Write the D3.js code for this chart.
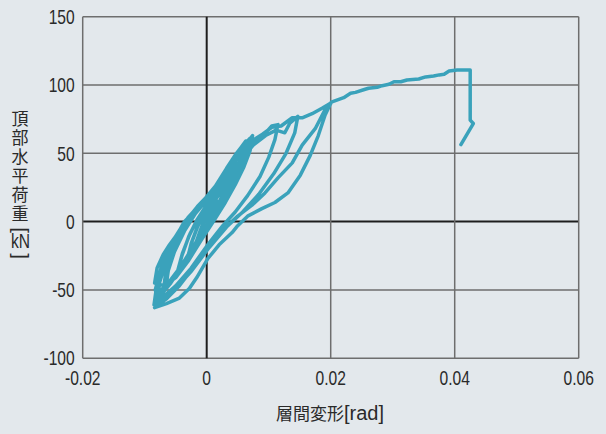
<!DOCTYPE html>
<html>
<head>
<meta charset="utf-8">
<script src="https://cdn.jsdelivr.net/npm/d3@7"></script>
<style>
  html, body { margin: 0; padding: 0; background: #e3e8ec; }
  svg { display: block; }
  .tick-label { font-family: "Liberation Sans", Arial, sans-serif; font-size: 20px; fill: #2a2a2a; }
  .axis-title { font-family: "Noto Sans CJK JP", sans-serif; font-size: 17px; fill: #2a2a2a; }
  .axis-unit { font-family: "Liberation Sans", Arial, sans-serif; font-size: 20px; fill: #2a2a2a; }
</style>
</head>
<body>
<svg id="chart"></svg>
<script>
// axis ticks
const xTicks = [-0.02, 0, 0.02, 0.04, 0.06]
const xTickLabels = ["-0.02", "0", "0.02", "0.04", "0.06"]
const yTicks = [-100, -50, 0, 50, 100, 150]

// [drift rad, load kN], in test order
const smallCycles = [
  [0, 0], [0.0008, 7], [0.0016, 14], [0.0011, 7], [0.0003, 0], [-0.0007, -7], [-0.0015, -13], [-0.0010, -6],
  [-0.0003, 1], [0.0007, 8], [0.0017, 15], [0.0010, 6], [0.0001, -2], [-0.0009, -9], [-0.0017, -15], [-0.0010, -6],
  [-0.0002, 3], [0.0010, 13], [0.0020, 20], [0.0030, 27], [0.0023, 17], [0.0012, 7], [0.0002, -3], [-0.0010, -12],
  [-0.0022, -20], [-0.0031, -27], [-0.0025, -16], [-0.0016, -5], [-0.0005, 5], [0.0009, 15], [0.0021, 22], [0.0032, 29],
  [0.0022, 16], [0.0009, 4], [-0.0005, -7], [-0.0018, -17], [-0.0032, -28], [-0.0024, -15], [-0.0014, -3]
]
const midCycles = [
  [-0.0002, 9], [0.0014, 19], [0.0030, 31], [0.0046, 41], [0.0038, 30], [0.0026, 18], [0.0012, 6], [-0.0002, -5],
  [-0.0018, -17], [-0.0033, -27], [-0.0047, -37], [-0.0040, -25], [-0.0029, -11], [-0.0016, 1], [0.0001, 13], [0.0019, 24],
  [0.0034, 34], [0.0047, 43], [0.0035, 28], [0.0021, 14], [0.0005, 1], [-0.0013, -13], [-0.0029, -25], [-0.0048, -38],
  [-0.0039, -23], [-0.0027, -9], [-0.0013, 3], [0.0005, 15], [0.0022, 28], [0.0038, 40], [0.0050, 50], [0.0060, 56],
  [0.0054, 44], [0.0043, 31], [0.0029, 19], [0.0014, 7], [-0.0001, -5], [-0.0020, -19], [-0.0040, -33], [-0.0056, -43],
  [-0.0066, -49], [-0.0062, -36], [-0.0052, -22], [-0.0036, -7], [-0.0018, 6], [0.0004, 18], [0.0025, 32], [0.0042, 45],
  [0.0055, 54], [0.0063, 59], [0.0056, 46], [0.0042, 31], [0.0025, 16], [0.0008, 3], [-0.0012, -12], [-0.0034, -29],
  [-0.0056, -43], [-0.0070, -51], [-0.0066, -37], [-0.0056, -21], [-0.0040, -6]
]
const repeatCycles = [
  [-0.0030, 2], [-0.0012, 12], [0.0008, 22], [0.0028, 35], [0.0045, 47], [0.0058, 55], [0.0066, 58], [0.0060, 47],
  [0.0048, 34], [0.0032, 21], [0.0016, 9], [0, -3], [-0.0020, -17], [-0.0042, -33], [-0.0062, -45], [-0.0078, -52],
  [-0.0074, -38], [-0.0062, -22], [-0.0044, -7], [-0.0026, 4], [-0.0006, 15], [0.0014, 26], [0.0032, 39], [0.0048, 50],
  [0.0060, 57], [0.0068, 60], [0.0063, 50], [0.0052, 37], [0.0038, 24], [0.0020, 11], [0.0004, -1], [-0.0016, -15],
  [-0.0038, -31], [-0.0060, -44], [-0.0080, -54], [-0.0083, -50], [-0.0072, -31], [-0.0056, -15], [-0.0038, -2],
  [-0.0015, 11], [0.0006, 21], [0.0026, 33], [0.0044, 46], [0.0058, 55], [0.0070, 61], [0.0066, 52], [0.0056, 40],
  [0.0040, 27], [0.0022, 13], [0.0006, 1], [-0.0014, -13], [-0.0036, -30], [-0.0058, -45], [-0.0076, -55], [-0.0083, -59],
  [-0.0080, -44], [-0.0066, -27], [-0.0048, -10], [-0.0030, 3]
]
const largeCycles = [
  [-0.0020, 8], [-0.0002, 17], [0.0017, 24], [0.0036, 36], [0.0052, 51], [0.0062, 57], [0.0064, 53], [0.0069, 60],
  [0.0074, 63], [0.0070, 52], [0.0060, 40], [0.0046, 27], [0.0030, 14], [0.0012, 1], [-0.0008, -13], [-0.0030, -29],
  [-0.0050, -41], [-0.0068, -47], [-0.0084, -45], [-0.0080, -34], [-0.0070, -24], [-0.0060, -17], [-0.0047, -9], [-0.0036, 0],
  [-0.0019, 8], [0, 18], [0.0020, 28], [0.0040, 41], [0.0060, 52], [0.0073, 58], [0.0085, 62], [0.0097, 66], [0.0105, 70],
  [0.0115, 71], [0.0110, 60], [0.0100, 47], [0.0086, 33], [0.0066, 19], [0.0046, 7], [0.0026, -3], [0, -18],
  [-0.0025, -34], [-0.0050, -47], [-0.0070, -55], [-0.0085, -61], [-0.0081, -48], [-0.0070, -30], [-0.0056, -17], [-0.0040, -6],
  [-0.0024, 4], [-0.0006, 14], [0.0016, 23], [0.0035, 34], [0.0055, 45], [0.0075, 56], [0.0095, 63], [0.0112, 67], [0.0126, 65],
  [0.0134, 72], [0.0147, 77], [0.0142, 65], [0.0128, 50], [0.0108, 35], [0.0084, 20], [0.0058, 7], [0.0032, -4],
  [0.0004, -19], [-0.0026, -37], [-0.0056, -52], [-0.0080, -60], [-0.0077, -46], [-0.0066, -30], [-0.0050, -14], [-0.0032, -1],
  [-0.0010, 12]
]
const bigLoop = [
  [0.0012, 20], [0.0034, 32], [0.0056, 46], [0.0073, 59], [0.0090, 64], [0.0105, 69], [0.0120, 70], [0.0138, 76],
  [0.0154, 76], [0.0170, 79], [0.0186, 83], [0.0201, 87],
  [0.0191, 82], [0.0175, 68], [0.0154, 56], [0.0138, 43], [0.0115, 32], [0.0094, 21], [0.0073, 12], [0.0050, 4],
  [0.0026, -6], [0, -20], [-0.0022, -34], [-0.0044, -47], [-0.0066, -57], [-0.0084, -63],
  [-0.0065, -60], [-0.0044, -56], [-0.0028, -49], [-0.0016, -41], [0.0002, -27], [0.0020, -17], [0.0041, -8], [0.0050, -3],
  [0.0066, 4], [0.0089, 9.5], [0.0110, 14], [0.0131, 21], [0.0151, 34], [0.0167, 48.5], [0.0180, 63], [0.0191, 78],
  [0.0201, 87.5]
]
const finalPush = [
  [0.0221, 90.7], [0.0232, 93.9], [0.0240, 94.6], [0.0253, 96.5], [0.0261, 97.6], [0.0275, 98.3], [0.0283, 99.5],
  [0.0294, 100.5], [0.0302, 102.4], [0.0313, 102.4], [0.0323, 103.7], [0.0342, 104.4], [0.0353, 105.9], [0.0366, 106.6],
  [0.0375, 107.4], [0.0383, 107.9], [0.0391, 110.3], [0.0404, 111], [0.0425, 111], [0.0425, 74.3], [0.0430, 71.8],
  [0.0410, 56.4]
]

const yTitle = "頂部水平荷重"

const initViz = ({ svg }) => {
  const width = 606
  const height = 434
  const margin = ({ top: 16.7, right: 27.3, bottom: 75.8, left: 82.7 })
  const squeeze = 0.78 // the original uses a condensed face

  svg.attr("width", width).attr("height", height)

  const x = d3.scaleLinear()
    .domain([-0.02, 0.06])
    .range([margin.left, width - margin.right])

  const y = d3.scaleLinear()
    .domain([-100, 150])
    .range([height - margin.bottom, margin.top])

  // grid
  const grid = svg.append("g").attr("class", "g-grid")
  grid.selectAll("line.h")
    .data(yTicks)
    .enter()
    .append("line")
      .attr("class", "h")
      .attr("x1", x(-0.02))
      .attr("x2", x(0.06))
      .attr("y1", d => y(d))
      .attr("y2", d => y(d))
      .attr("stroke", d => d === 0 ? "#1e1e1e" : "#6e6e6e")
      .attr("stroke-width", d => d === 0 ? 2 : 1.5)
  grid.selectAll("line.v")
    .data(xTicks)
    .enter()
    .append("line")
      .attr("class", "v")
      .attr("x1", d => x(d))
      .attr("x2", d => x(d))
      .attr("y1", y(-100))
      .attr("y2", y(150))
      .attr("stroke", d => d === 0 ? "#1e1e1e" : "#6e6e6e")
      .attr("stroke-width", d => d === 0 ? 2 : 1.5)

  // tick labels
  svg.append("g").selectAll("text")
    .data(yTicks)
    .enter()
    .append("text")
      .attr("class", "tick-label")
      .attr("transform", d => `translate(${margin.left - 8},${y(d)}) scale(${squeeze},1)`)
      .attr("dy", "0.36em")
      .attr("text-anchor", "end")
      .text(d => d)

  svg.append("g").selectAll("text")
    .data(xTicks)
    .enter()
    .append("text")
      .attr("class", "tick-label")
      .attr("transform", d => `translate(${x(d)},${y(-100) + 27}) scale(${squeeze},1)`)
      .attr("text-anchor", "middle")
      .text((d, i) => xTickLabels[i])

  // axis titles
  const xt = svg.append("text")
    .attr("class", "axis-title")
    .attr("font-size", "18px")
    .attr("x", 330)
    .attr("y", 420)
    .attr("text-anchor", "middle")
  xt.append("tspan").text("層間変形")
  xt.append("tspan")
    .attr("class", "axis-unit")
    .attr("font-size", "19px")
    .text("[rad]")

  const yt = svg.append("g").attr("class", "g-ytitle")
  yt.append("text")
    .attr("class", "axis-title")
    .attr("x", 20)
    .attr("y", 110)
    .attr("letter-spacing", "2px")
    .style("writing-mode", "vertical-rl")
    .text(yTitle)
  yt.append("text")
    .attr("class", "axis-unit")
    .attr("transform", "translate(14,230) rotate(90)")
    .attr("text-anchor", "middle")
    .text("[")
  yt.append("text")
    .attr("class", "axis-unit")
    .attr("transform", `translate(20.5,248) scale(${squeeze},1)`)
    .attr("text-anchor", "middle")
    .text("kN")
  yt.append("text")
    .attr("class", "axis-unit")
    .attr("transform", "translate(14,256) rotate(90)")
    .attr("text-anchor", "middle")
    .text("]")

  // load - drift curve
  const line = d3.line()
    .x(d => x(d[0]))
    .y(d => y(d[1]))

  const points = [...smallCycles, ...midCycles, ...repeatCycles, ...largeCycles, ...bigLoop, ...finalPush]

  svg.append("path")
    .datum(points)
    .attr("d", line)
    .attr("fill", "none")
    .attr("stroke", "#3aa2bb")
    .attr("stroke-width", 3.5)
    .attr("stroke-linejoin", "round")
    .attr("stroke-linecap", "round")
}

initViz({ svg: d3.select("#chart") })
</script>
</body>
</html>
